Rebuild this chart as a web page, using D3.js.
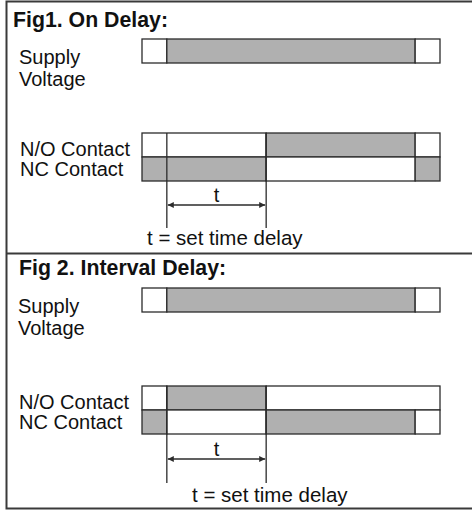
<!DOCTYPE html>
<html>
<head>
<meta charset="utf-8">
<script src="https://cdn.jsdelivr.net/npm/d3@7"></script>
<style>
  body { margin: 0; background: #fff; }
  svg text { font-family: "Liberation Sans", Arial, sans-serif; fill: #111; }
</style>
</head>
<body>
<svg id="timing"></svg>
<script>
// time break points (relative units) and the on/off state of each segment
const timePoints = [0, 1, 5, 11, 12];
const figTitles = ["Fig1. On Delay:", "Fig 2. Interval Delay:"];
const supplyStates = [[0, 1, 1, 0], [0, 1, 1, 0]];
const noStates = [[0, 0, 1, 0], [0, 1, 0, 0]];
const ncStates = [[1, 1, 0, 1], [1, 0, 1, 0]];
const delayMarks = [1, 5];
const footnote = "t = set time delay";

let width = 472, height = 510;
let svg = d3.select("#timing").attr("width", width).attr("height", height);

let x = d3.scaleLinear().domain([0, 12]).range([142, 440]);
let grey = "#b0b0b0", ink = "#2b2b2b";
let labelSize = "20px";

// layout of each panel
let panels = [
  { top: 0, titleX: 13, titleY: 27, supplyY: 39, labelX: 19, rowsY: 133, footX: 147, arrowY: 205, markEnd: 228, footY: 245 },
  { top: 253, titleX: 19, titleY: 275, supplyY: 288, labelX: 18, rowsY: 386, footX: 192, arrowY: 459, markEnd: 483, footY: 502 }
];
let rowH = 24;

svg.append("defs").selectAll("marker")
  .data(["arrS", "arrE"])
  .enter().append("marker")
    .attr("id", d => d)
    .attr("viewBox", "0 0 10 10")
    .attr("refX", d => d == "arrE" ? 10 : 0)
    .attr("refY", 5)
    .attr("markerWidth", 9)
    .attr("markerHeight", 6)
    .attr("markerUnits", "userSpaceOnUse")
    .attr("orient", "auto")
  .append("path")
    .attr("d", d => d == "arrE" ? "M0,0L10,5L0,10Z" : "M10,0L0,5L10,10Z")
    .attr("fill", ink);

// merge neighbouring segments with the same state
function segments(states) {
  let out = [];
  states.forEach((s, i) => {
    let last = out[out.length - 1];
    if (last && last.on == s) last.t1 = timePoints[i + 1];
    else out.push({ on: s, t0: timePoints[i], t1: timePoints[i + 1] });
  });
  return out;
}

function drawRow(g, states, y0) {
  g.append("g").selectAll("rect")
    .data(segments(states))
    .enter().append("rect")
      .attr("x", d => x(d.t0))
      .attr("width", d => x(d.t1) - x(d.t0))
      .attr("y", y0)
      .attr("height", rowH)
      .attr("fill", d => d.on ? grey : "#fff")
      .attr("stroke", ink)
      .attr("stroke-width", 1.3);
}

panels.forEach((p, i) => {
  let g = svg.append("g");

  g.append("text")
    .text(figTitles[i])
    .attr("x", p.titleX).attr("y", p.titleY)
    .attr("font-size", "21.3px").attr("font-weight", "bold");

  g.append("text").text("Supply").attr("x", p.labelX).attr("y", p.supplyY + 25).attr("font-size", labelSize);
  g.append("text").text("Voltage").attr("x", p.labelX).attr("y", p.supplyY + 47).attr("font-size", labelSize);
  drawRow(g, supplyStates[i], p.supplyY);

  g.append("text").text("N/O Contact").attr("x", p.labelX + 1).attr("y", p.rowsY + 23).attr("font-size", labelSize);
  g.append("text").text("NC Contact").attr("x", p.labelX + 1).attr("y", p.rowsY + 43).attr("font-size", labelSize);
  drawRow(g, noStates[i], p.rowsY);
  drawRow(g, ncStates[i], p.rowsY + rowH);

  // delay markers
  g.selectAll(".mark")
    .data(delayMarks)
    .enter().append("line")
      .attr("x1", d => x(d)).attr("x2", d => x(d))
      .attr("y1", p.rowsY).attr("y2", p.markEnd)
      .attr("stroke", ink).attr("stroke-width", 1.3);

  g.append("line")
    .attr("x1", x(delayMarks[0]) + 1).attr("x2", x(delayMarks[1]) - 1)
    .attr("y1", p.arrowY).attr("y2", p.arrowY)
    .attr("stroke", ink).attr("stroke-width", 1.3)
    .attr("marker-start", "url(#arrS)")
    .attr("marker-end", "url(#arrE)");

  g.append("text").text("t")
    .attr("x", (x(delayMarks[0]) + x(delayMarks[1])) / 2)
    .attr("y", p.arrowY - 3)
    .attr("text-anchor", "middle")
    .attr("font-size", labelSize);

  g.append("text").text(footnote)
    .attr("x", p.footX).attr("y", p.footY)
    .attr("font-size", "20.5px");
});

// frame
let frame = "#3a3a3a";
svg.append("path")
  .attr("d", "M480,1.5H6.5V508.5H480M6.5,253.5H480")
  .attr("fill", "none")
  .attr("stroke", frame)
  .attr("stroke-width", 2);
</script>
</body>
</html>
